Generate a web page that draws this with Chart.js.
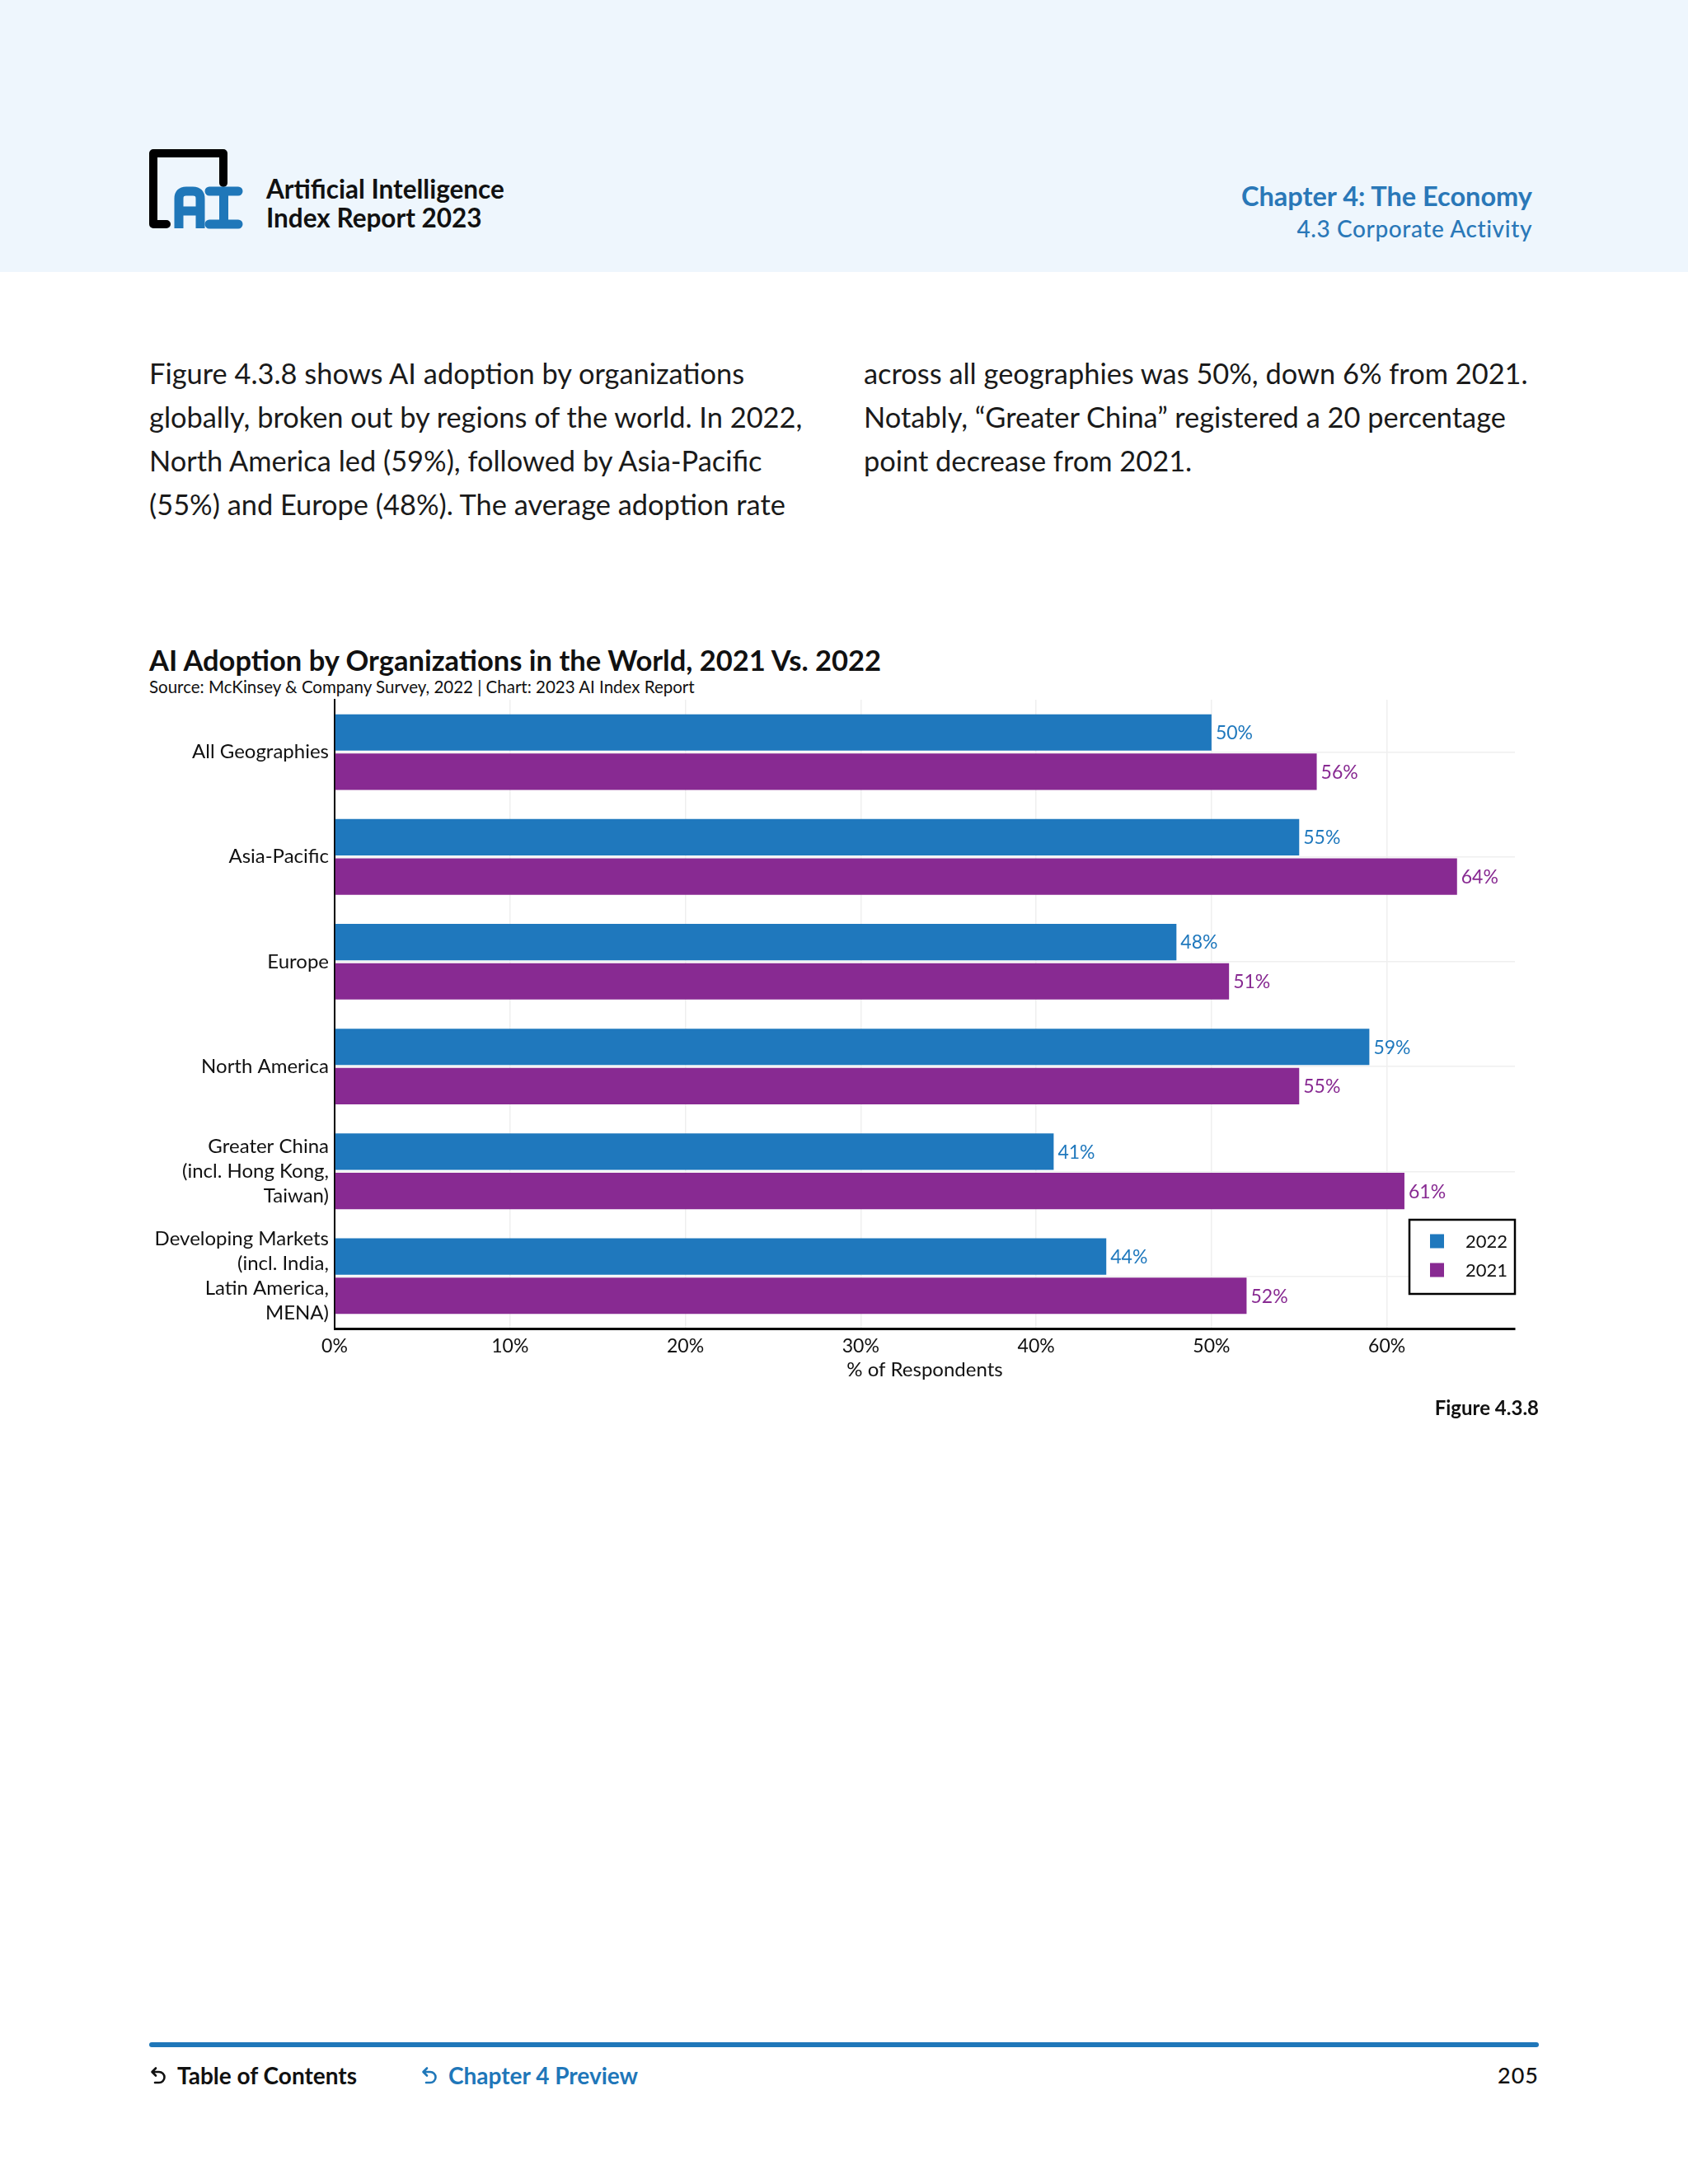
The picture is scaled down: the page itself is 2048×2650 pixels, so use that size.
<!DOCTYPE html>
<html><head><meta charset="utf-8">
<script src="https://cdn.jsdelivr.net/npm/chart.js@4/dist/chart.umd.min.js"></script>
<style>
body{margin:0;width:2048px;height:2650px;position:relative;background:#fff;font-family:Lato,"Noto Sans",sans-serif;color:#111;overflow:hidden;}
.abs{position:absolute;white-space:nowrap;}
#header{left:0;top:0;width:2048px;height:330px;background:#eef6fd;}
.hdr1{left:323px;top:212px;font-size:31.5px;line-height:35px;font-weight:700;color:#111;}
.chap{right:189px;top:218px;font-size:32.5px;line-height:40px;font-weight:700;color:#2a78b8;text-align:right;}
.sec{right:189px;top:259px;font-size:28px;line-height:36px;font-weight:500;color:#2a78b8;text-align:right;letter-spacing:0.6px;}
.para{font-size:34.4px;line-height:53px;color:#1a1a1a;top:426px;}
.title{left:181px;top:781px;font-size:34.5px;line-height:40px;font-weight:700;color:#111;}
.src{left:181px;top:821px;font-size:20.5px;line-height:24px;color:#111;}
.fig{right:181px;top:1693px;font-size:24px;line-height:30px;font-weight:700;color:#111;}
.fline{left:181px;top:2478px;width:1686px;height:6px;border-radius:3px;background:#1f77b9;}
.ftxt{top:2501px;font-size:28px;line-height:34px;font-weight:700;}
#chartbox{position:absolute;left:150px;top:841px;width:1720px;height:874px;}
</style></head>
<body>
<div id="header" class="abs"></div>
<svg class="abs" style="left:181px;top:181px;overflow:visible" width="115" height="100" viewBox="0 0 115 100">
  <path d="M21 91 L5 91 L5 5 L90 5 L90 41" fill="none" stroke="#000" stroke-width="10" stroke-linecap="round" stroke-linejoin="round"/>
  <path d="M36 96 L36 60 Q36 51 45 51 L53 51 Q62 51 62 60 L62 96 M36 75 L62 75" fill="none" stroke="#1f77b9" stroke-width="11"/>
  <path d="M73 51 L108 51 M90.5 51 L90.5 91 M73 91 L108 91" fill="none" stroke="#1f77b9" stroke-width="11" stroke-linecap="round"/>
</svg>
<div class="abs hdr1">Artificial Intelligence<br>Index Report 2023</div>
<div class="abs chap">Chapter 4: The Economy</div>
<div class="abs sec">4.3 Corporate Activity</div>

<div class="abs para" style="left:181px;">Figure 4.3.8 shows AI adoption by organizations<br>globally, broken out by regions of the world. In 2022,<br>North America led (59%), followed by Asia-Pacific<br>(55%) and Europe (48%). The average adoption rate</div>
<div class="abs para" style="left:1048px;">across all geographies was 50%, down 6% from 2021.<br>Notably, “Greater China” registered a 20 percentage<br>point decrease from 2021.</div>

<div class="abs title">AI Adoption by Organizations in the World, 2021 Vs. 2022</div>
<div class="abs src">Source: McKinsey &amp; Company Survey, 2022 | Chart: 2023 AI Index Report</div>

<div id="chartbox"><canvas id="c" width="1720" height="874"></canvas></div>

<div class="abs fig">Figure 4.3.8</div>

<div class="abs fline"></div>
<svg class="abs" style="left:181px;top:2507px" width="24" height="24" viewBox="0 0 24 24"><path d="M4 7 H12 A6.5 6.5 0 0 1 12 20 H7 M8 2.5 L3.5 7 L8 11.5" fill="none" stroke="#111" stroke-width="2.6" stroke-linecap="round" stroke-linejoin="round"/></svg>
<div class="abs ftxt" style="left:215px;color:#111;">Table of Contents</div>
<svg class="abs" style="left:510px;top:2507px" width="24" height="24" viewBox="0 0 24 24"><path d="M4 7 H12 A6.5 6.5 0 0 1 12 20 H7 M8 2.5 L3.5 7 L8 11.5" fill="none" stroke="#1f77b9" stroke-width="2.6" stroke-linecap="round" stroke-linejoin="round"/></svg>
<div class="abs ftxt" style="left:544px;color:#1f77b9;">Chapter 4 Preview</div>
<div class="abs ftxt" style="right:181px;color:#111;font-weight:500;font-size:27px;letter-spacing:1px;">205</div>

<script>
const categories = [
  ["All Geographies"],
  ["Asia-Pacific"],
  ["Europe"],
  ["North America"],
  ["Greater China", "(incl. Hong Kong,", "Taiwan)"],
  ["Developing Markets", "(incl. India,", "Latin America,", "MENA)"]
];
const seriesNames = ["2022", "2021"];
const values2022 = [50, 55, 48, 59, 41, 44];
const values2021 = [56, 64, 51, 55, 61, 52];
const xTicks = [0, 10, 20, 30, 40, 50, 60];
const xMax = 67.3;

const BLUE = "#1f78bd";
const PURPLE = "#882a92";

Chart.defaults.font.family = "Lato, 'Noto Sans', sans-serif";
Chart.defaults.color = "#111";

const valueLabels = {
  id: "valueLabels",
  afterDatasetsDraw(chart) {
    const ctx = chart.ctx;
    ctx.save();
    ctx.font = "23px Lato, 'Noto Sans', sans-serif";
    ctx.textBaseline = "middle";
    ctx.textAlign = "left";
    chart.data.datasets.forEach((ds, i) => {
      const meta = chart.getDatasetMeta(i);
      meta.data.forEach((el, j) => {
        ctx.fillStyle = ds.backgroundColor;
        ctx.fillText(ds.data[j] + "%", el.x + 5, el.y + 1);
      });
    });
    ctx.restore();
  }
};

const boxLegend = {
  id: "boxLegend",
  afterDraw(chart) {
    const ctx = chart.ctx, a = chart.chartArea;
    const w = 128, h = 90;
    const x = a.right - w, y = a.bottom - 42 - h;
    ctx.save();
    ctx.fillStyle = "#fff";
    ctx.fillRect(x, y, w, h);
    ctx.strokeStyle = "#000";
    ctx.lineWidth = 2.5;
    ctx.strokeRect(x, y, w, h);
    ctx.font = "22px Lato, 'Noto Sans', sans-serif";
    ctx.textBaseline = "middle";
    chart.data.datasets.forEach((ds, i) => {
      const cy = y + 26 + i * 35;
      ctx.fillStyle = ds.backgroundColor;
      ctx.fillRect(x + 25, cy - 8.5, 17, 17);
      ctx.fillStyle = "#111";
      ctx.fillText(ds.label, x + 68, cy + 1);
    });
    ctx.restore();
  }
};

new Chart(document.getElementById("c"), {
  type: "bar",
  data: {
    labels: categories,
    datasets: [
      { label: seriesNames[0], data: values2022, backgroundColor: BLUE, categoryPercentage: 0.75, barPercentage: 0.926 },
      { label: seriesNames[1], data: values2021, backgroundColor: PURPLE, categoryPercentage: 0.75, barPercentage: 0.926 }
    ]
  },
  options: {
    indexAxis: "y",
    responsive: false,
    animation: false,
    devicePixelRatio: 1,
    layout: { padding: { top: 8, right: 32, left: 0, bottom: 0 } },
    plugins: { legend: { display: false }, tooltip: { enabled: false } },
    scales: {
      x: {
        min: 0, max: xMax,
        afterFit(s) { s.height = 103; s.paddingLeft = 0; s.paddingRight = 0; },
        afterBuildTicks(s) { s.ticks = xTicks.map(v => ({ value: v })); },
        ticks: { includeBounds: false, autoSkip: false, maxRotation: 0, padding: 8, font: { size: 23 }, color: "#111", callback: v => v + "%" },
        grid: { color: "#efefef", lineWidth: 1.5, drawTicks: false },
        border: { display: true, color: "#000", width: 3 },
        title: { display: true, text: "% of Respondents", font: { size: 24 }, color: "#111", padding: { top: 4, bottom: 38 } }
      },
      y: {
        afterFit(s) { s.width = 256; s.paddingTop = 0; s.paddingBottom = 0; },
        ticks: { autoSkip: false, padding: 7, font: { size: 24, lineHeight: 1.25 }, color: "#111" },
        grid: { offset: false, color: "#efefef", lineWidth: 1.5, drawTicks: false },
        border: { display: true, color: "#000", width: 2 }
      }
    }
  },
  plugins: [valueLabels, boxLegend]
});
</script>
</body></html>
